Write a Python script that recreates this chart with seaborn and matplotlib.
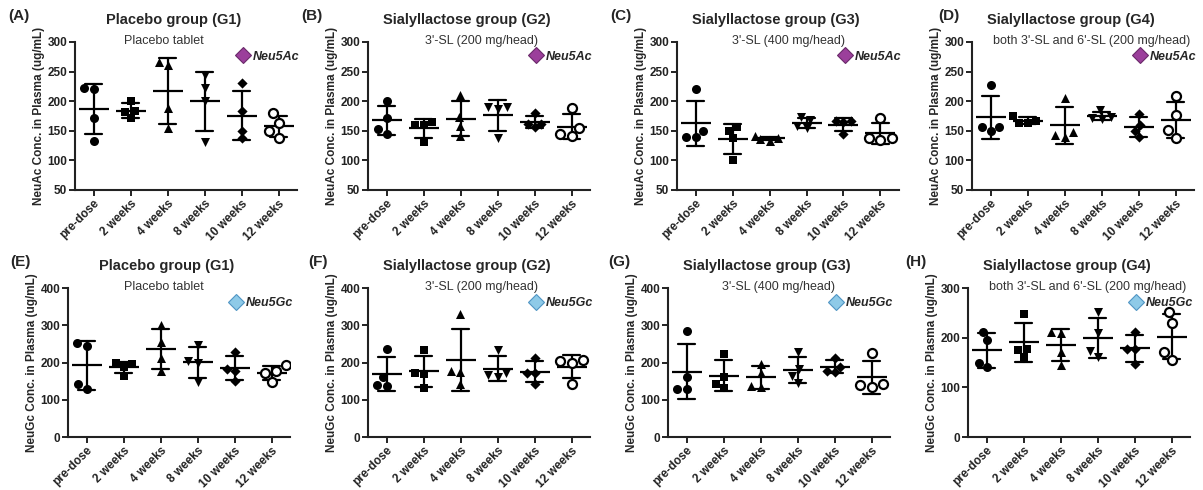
import matplotlib
matplotlib.use('Agg')
import matplotlib.pyplot as plt
from matplotlib.lines import Line2D
import numpy as np
import pandas as pd
import seaborn as sns

times = ['pre-dose', '2 weeks', '4 weeks', '8 weeks', '10 weeks', '12 weeks']
panel_tags = ['(A)', '(B)', '(C)', '(D)', '(E)', '(F)', '(G)', '(H)']
group_titles = ['Placebo group (G1)', 'Sialyllactose group (G2)',
                'Sialyllactose group (G3)', 'Sialyllactose group (G4)']
group_notes = ['Placebo tablet', "3'-SL (200 mg/head)", "3'-SL (400 mg/head)",
               "both 3'-SL and 6'-SL (200 mg/head)"]

neuac_g1 = [[222, 220, 172, 133], [201, 182, 183, 171], [261, 267, 188, 154],
            [244, 223, 200, 131], [230, 184, 150, 137], [180, 163, 150, 138]]
neuac_g2 = [[200, 172, 153, 145], [165, 160, 160, 131], [210, 173, 158, 142],
            [190, 191, 187, 137], [180, 162, 162, 156], [188, 155, 145, 141]]
neuac_g3 = [[220, 150, 140, 140], [157, 150, 137, 100], [141, 138, 136, 133],
            [173, 168, 158, 154], [166, 165, 166, 144], [172, 138, 135, 137]]
neuac_g4 = [[227, 157, 157, 150], [175, 166, 164, 163], [205, 148, 143, 140],
            [185, 174, 172, 170], [179, 160, 150, 139], [208, 177, 152, 138]]

# NeuGc (ug/mL), panels E-H
neugc_g1 = [[252, 245, 142, 130], [199, 196, 188, 165], [300, 255, 212, 178],
            [248, 205, 200, 148], [227, 183, 178, 150], [192, 178, 172, 147]]
neugc_g2 = [[235, 160, 139, 138], [233, 172, 168, 132], [330, 178, 175, 142],
            [233, 172, 167, 160], [213, 173, 172, 143], [208, 203, 200, 142]]
neugc_g3 = [[285, 160, 130, 128], [224, 162, 142, 132], [197, 172, 138, 133],
            [227, 182, 165, 145], [213, 188, 177, 175], [225, 142, 140, 133]]
neugc_g4 = [[212, 195, 150, 140], [248, 178, 175, 162], [212, 210, 172, 145],
            [252, 210, 173, 162], [212, 178, 177, 147], [252, 230, 172, 155]]

acid_names = ['Neu5Ac', 'Neu5Gc']
acid_ylabels = ['NeuAc Conc. in Plasma (ug/mL)', 'NeuGc Conc. in Plasma (ug/mL)']
panel_data = [neuac_g1, neuac_g2, neuac_g3, neuac_g4,
              neugc_g1, neugc_g2, neugc_g3, neugc_g4]
panel_ylim = [(50, 300)] * 4 + [(0, 400)] * 3 + [(0, 300)]
panel_yticks = [[50, 100, 150, 200, 250, 300]] * 4 + [[0, 100, 200, 300, 400]] * 3 + [[0, 100, 200, 300]]

# marker per time point (Prism style)
time_markers = ['o', 's', '^', 'v', 'D', 'o']
marker_sizes = [6.5, 6.0, 6.5, 6.5, 5.2, 6.5]
acid_face = ['#9b3f9b', '#8ecae8']
acid_edge = ['#6a2a6a', '#4f95c4']

sns.set_theme(style='ticks')
plt.rcParams['font.family'] = ['Liberation Sans', 'DejaVu Sans']
plt.rcParams['axes.edgecolor'] = '#222222'
plt.rcParams['xtick.color'] = '#222222'
plt.rcParams['ytick.color'] = '#222222'

W, H = 1203, 490
fig = plt.figure(figsize=(W / 100, H / 100), dpi=100)

# layout in pixels: axes left edges, plot width, top/bottom of rows
lefts = [75, 368, 677, 972, 68, 368, 668, 968]
ax_w = 222
rows = [(42, 190), (288, 437)]
tag_x = [8, 301, 610, 938, 10, 308, 608, 905]
note_x = [0.40, 0.51, 0.50, 0.54, 0.43, 0.51, 0.50, 0.54]

for i in range(8):
    r = i // 4
    g = i % 4
    top, bot = rows[r]
    ax = fig.add_axes([lefts[i] / W, 1 - bot / H, ax_w / W, (bot - top) / H])

    df = pd.DataFrame([(t, v) for t, vals in zip(times, panel_data[i]) for v in vals],
                      columns=['time', 'value'])

    # mean +/- SD
    sns.pointplot(data=df, x='time', y='value', order=times, errorbar='sd',
                  color='black', linestyle='none', marker='_', markersize=22,
                  markeredgewidth=1.6, capsize=0.45, err_kws={'linewidth': 1.6},
                  ax=ax, zorder=2)

    # individual subjects
    for t, m, s in zip(times, time_markers, marker_sizes):
        sub = df[df['time'] == t]
        if t == '12 weeks':
            sns.swarmplot(data=sub, x='time', y='value', order=times, marker=m,
                          size=s, color='white', edgecolor='black', linewidth=1.6,
                          ax=ax, zorder=3)
        else:
            sns.swarmplot(data=sub, x='time', y='value', order=times, marker=m,
                          size=s, color='black', linewidth=0, ax=ax, zorder=3)

    ax.set_xlim(-0.5, 5.5)
    ax.set_ylim(*panel_ylim[i])
    ax.set_yticks(panel_yticks[i])
    ax.set_xlabel('')
    ax.set_ylabel(acid_ylabels[r], fontsize=8.5, fontweight='bold', labelpad=2)
    sns.despine(ax=ax)
    ax.spines['left'].set_linewidth(1.5)
    ax.spines['bottom'].set_linewidth(1.5)
    ax.tick_params(axis='both', width=1.4, length=4, pad=1.5)
    ax.set_xticks(range(len(times)))
    ax.set_xticklabels(times, rotation=45, ha='right', rotation_mode='anchor',
                       fontsize=8.5, fontweight='bold')
    for lab in ax.get_yticklabels():
        lab.set_fontsize(8.5)
        lab.set_fontweight('bold')

    ax.text(note_x[i], 1.005, group_notes[g], transform=ax.transAxes, ha='center',
            va='center', fontsize=9, color='#333333')

    proxy = Line2D([], [], linestyle='none', marker='D', markersize=8.5,
                   markerfacecolor=acid_face[r], markeredgecolor=acid_edge[r],
                   markeredgewidth=0.8)
    leg = ax.legend([proxy], [acid_names[r]], loc='center left',
                    bbox_to_anchor=(0.70, 0.90), frameon=False, handlelength=1.0,
                    handletextpad=0.3, borderpad=0,
                    prop={'weight': 'bold', 'style': 'italic', 'size': 9})

    # group title and panel tag
    fig.text((lefts[i] + ax_w / 2 - 12) / W, 1 - (top - 22) / H, group_titles[g],
             ha='center', va='center', fontsize=10.5, fontweight='bold')
    fig.text(tag_x[i] / W, 1 - (top - 26) / H, panel_tags[i], ha='left',
             va='center', fontsize=11, fontweight='bold')

fig.savefig('out.png', dpi=100)
